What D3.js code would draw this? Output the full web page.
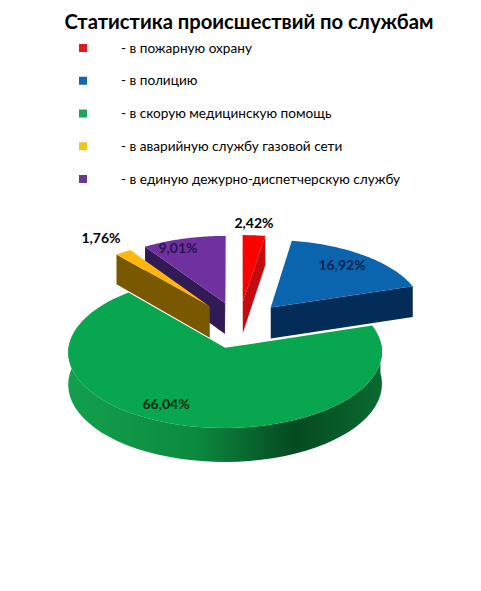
<!DOCTYPE html>
<html>
<head>
<meta charset="utf-8">
<script src="https://cdn.jsdelivr.net/npm/d3@7"></script>
<style>
  html, body { margin: 0; padding: 0; background: #fff; }
  text { font-family: Lato, "Open Sans", sans-serif; fill: #000; }
</style>
</head>
<body>
<div id="chart"></div>
<script>
const categories = [
  "- в пожарную охрану",
  "- в полицию",
  "- в скорую медицинскую помощь",
  "- в аварийную службу газовой сети",
  "- в единую дежурно-диспетчерскую службу"
];
const shares = [2.42, 16.92, 66.04, 1.76, 9.01];
const shareLabels = ["2,42%", "16,92%", "66,04%", "1,76%", "9,01%"];
const topColors = ["#ff0000", "#0a64ae", "#07a64f", "#ffb70f", "#7030a0"];
const wallColors = ["#c40b0f", "#032c58", "#0b7a38", "#7a5800", "#321a56"];
const legendColors = ["#e21a1c", "#1367ad", "#1ca35e", "#f0c41f", "#663a8f"];
const labelColors = ["#000000", "#08234f", "#04280f", "#000000", "#25164a"];
// label anchors in page pixels
const labelX = [254, 342, 166, 101, 178];
const labelY = [228, 270, 409, 243, 253];

const width = 481, height = 591;

// pie on a tilted disc: world units are disc radii, y points away from the viewer
const cx = 239, cy = 325, radiusX = 154, radiusY = 73.1;
const perspective = 0.055, depth = 31.5, explode = 0.32;

const project = (wx, wy, drop = 0) => {
    const s = 1 / (1 + perspective * wy);
    return [cx + radiusX * wx * s, cy - radiusY * wy * s + drop * s];
};

const svg = d3.select("#chart").append("svg")
    .attr("width", width).attr("height", height)
    .style("display", "block");

const defs = svg.append("defs");
const greenSide = defs.append("linearGradient")
    .attr("id", "green-side").attr("gradientUnits", "userSpaceOnUse")
    .attr("x1", 69).attr("y1", 0).attr("x2", 382).attr("y2", 0);
[[0, "#12a04d"], [0.4, "#0c8a3f"], [0.72, "#064a21"], [1, "#0a6a30"]].forEach(([o, c]) => {
    greenSide.append("stop").attr("offset", o).attr("stop-color", c);
});

svg.append("text").attr("x", 249).attr("y", 29)
    .attr("text-anchor", "middle")
    .style("font-size", "20.2px").style("font-weight", "700")
    .text("Статистика происшествий по службам");

// legend
const legendY = d3.scalePoint().domain(d3.range(categories.length)).range([48, 179]);
const legend = svg.append("g").selectAll("g").data(categories).join("g")
    .attr("transform", (d, i) => `translate(0,${legendY(i)})`);
legend.append("rect").attr("x", 79).attr("y", -4).attr("width", 8).attr("height", 8)
    .attr("fill", (d, i) => legendColors[i]);
legend.append("text").attr("x", 121).attr("y", 4.5)
    .style("font-size", "13.6px")
    .text(d => d);

// slices
const pie = d3.pie().sort(null).value(d => d);
const line = d3.line();

const slices = pie(shares).map((d, i) => {
    const mid = (d.startAngle + d.endAngle) / 2;
    const ox = explode * Math.sin(mid), oy = explode * Math.cos(mid);
    const rim = a => [ox + Math.sin(a), oy + Math.cos(a)];
    const angles = d3.range(0, 61).map(k => d.startAngle + (d.endAngle - d.startAngle) * k / 60);
    return { i, mid, ox, oy, rim, angles, a0: d.startAngle, a1: d.endAngle };
}).sort((a, b) => b.oy - a.oy); // far slices first

const drawWall = (g, s, a) => {
    const apex = project(s.ox, s.oy);
    const end = project(...s.rim(a));
    const inner = project(...s.rim(s.mid));
    const ex = end[0] - apex[0], ey = end[1] - apex[1];
    const side = ex * (inner[1] - apex[1]) - ey * (inner[0] - apex[0]);
    if (side * ex >= 0) return; // hidden behind the top of the slice
    g.append("path")
        .attr("d", line([apex, end, project(...s.rim(a), depth), project(s.ox, s.oy, depth)]) + "Z")
        .attr("fill", wallColors[s.i]);
};

slices.forEach(s => {
    const g = svg.append("g");
    drawWall(g, s, s.a0);
    drawWall(g, s, s.a1);

    // round outer side, only the part that faces the viewer
    const front = s.angles.filter(a => Math.cos(a) < 0.15);
    if (front.length > 1) {
        const upper = front.map(a => project(...s.rim(a)));
        const lower = front.map(a => project(...s.rim(a), depth)).reverse();
        g.append("path").attr("d", line(upper.concat(lower)) + "Z")
            .attr("fill", s.i === 2 ? "url(#green-side)" : wallColors[s.i]);
    }

    const outline = [project(s.ox, s.oy)].concat(s.angles.map(a => project(...s.rim(a))));
    g.append("path").attr("d", line(outline) + "Z").attr("fill", topColors[s.i]);
});

svg.append("g").selectAll("text").data(shareLabels).join("text")
    .attr("x", (d, i) => labelX[i]).attr("y", (d, i) => labelY[i])
    .attr("text-anchor", "middle")
    .style("font-size", "14px").style("font-weight", "700")
    .style("fill", (d, i) => labelColors[i])
    .text(d => d);
</script>
</body>
</html>
